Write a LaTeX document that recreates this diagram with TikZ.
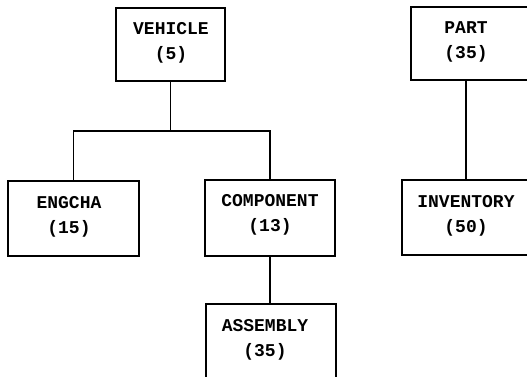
\documentclass[tikz,border=0pt]{standalone}
\usepackage{fontspec}
\setmonofont{Liberation Mono}
\begin{document}
\begin{tikzpicture}[x=1pt,y=-1pt,
  box/.style={draw, line width=1.2pt, inner sep=0pt},
  lbl/.style={font=\ttfamily\bfseries\fontsize{18}{25}\selectfont, align=center, inner sep=0pt},
  link/.style={line width=1.2pt}]
\useasboundingbox (0,0) rectangle (527,377);
\clip (0,0) rectangle (527,377);
% boxes
\node[box, minimum width=109pt, minimum height=73pt] (vehicle) at (170.5,44.5) {};
\node[box, minimum width=131pt, minimum height=75pt] (engcha) at (73.5,218.5) {};
\node[box, minimum width=130pt, minimum height=76pt] (component) at (270,218) {};
\node[box, minimum width=130pt, minimum height=96pt] (assembly) at (271,352) {};
\node[box, minimum width=129pt, minimum height=73pt] (part) at (475.5,43.5) {};
\node[box, minimum width=138pt, minimum height=75pt] (inventory) at (471,217.5) {};
% labels
\node[lbl] (tvehicle) at (171,43) {VEHICLE\\(5)};
\node[lbl] (tengcha) at (69,216.5) {ENGCHA\\(15)};
\node[lbl] (tcomponent) at (270,215) {COMPONENT\\(13)};
\node[lbl] (tassembly) at (265,340) {ASSEMBLY\\(35)};
\node[lbl] (tpart) at (466,41.5) {PART\\(35)};
\node[lbl] (tinventory) at (466,215.5) {INVENTORY\\(50)};
% connectors
\coordinate (bus) at (171,131);
\coordinate (pc) at (466,0);
\draw[link] (vehicle.south) -- (vehicle.south |- bus);
\draw[link] (engcha.north) -- (engcha.north |- bus) -- (component.north |- bus) -- (component.north);
\draw[link] (component.south) -- (assembly.north -| component.south);
\draw[link] (part.south -| pc) -- (inventory.north -| pc);
\end{tikzpicture}
\end{document}
